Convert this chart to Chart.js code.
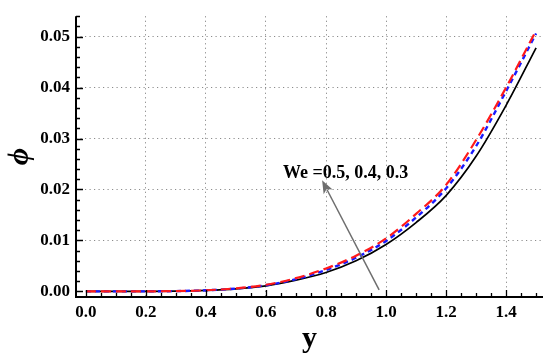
<!DOCTYPE html>
<html>
<head>
<meta charset="utf-8">
<script src="https://cdn.jsdelivr.net/npm/chart.js@4.4.0/dist/chart.umd.min.js"></script>
<style>
  html, body { margin: 0; padding: 0; background: #fff; }
  #wrap { width: 550px; height: 358px; }
</style>
</head>
<body>
<div id="wrap"><canvas id="phiChart"></canvas></div>
<script>
// values
const yValues = [0.0, 0.1, 0.2, 0.3, 0.4, 0.5, 0.6, 0.7, 0.8, 0.9, 1.0, 1.1, 1.2, 1.3, 1.4, 1.5]
const phiWe05 = [0, 0, 0.00001, 0.00006, 0.00022, 0.0006, 0.0013, 0.0026, 0.0045, 0.0070, 0.0104, 0.0152, 0.0209, 0.0297, 0.0400, 0.0512]
const phiWe04 = [0, 0, 0.00001, 0.00006, 0.00021, 0.00055, 0.0012, 0.0024, 0.0042, 0.0066, 0.0099, 0.0145, 0.0202, 0.0285, 0.0393, 0.0506]
const phiWe03 = [0, 0, 0.00001, 0.00005, 0.0002, 0.0005, 0.0011, 0.0022, 0.0037, 0.0060, 0.0092, 0.0135, 0.0188, 0.0265, 0.0365, 0.0478]
const xTicks = [0.0, 0.2, 0.4, 0.6, 0.8, 1.0, 1.2, 1.4]
const yTicks = [0.00, 0.01, 0.02, 0.03, 0.04, 0.05]

const noteText = 'We =0.5, 0.4, 0.3'
const notePos = { x: 0.657, y: 0.0223 }
const arrowFrom = { x: 0.977, y: 0.0003 }
const arrowTo = { x: 0.787, y: 0.0218 }

const serif = '"Liberation Serif", "Times New Roman", serif'

const toPts = (vals) => yValues.map((v, i) => ({ x: v, y: vals[i] }))

// axes lines, inward ticks and the arrow note
const decorations = {
  id: 'decorations',
  afterDatasetsDraw(chart) {
    const ctx = chart.ctx
    const xs = chart.scales.x, ys = chart.scales.y
    const a = chart.chartArea
    ctx.save()
    ctx.strokeStyle = '#000'
    ctx.lineWidth = 2
    ctx.beginPath()
    ctx.moveTo(a.left, a.top)
    ctx.lineTo(a.left, a.bottom)
    ctx.lineTo(a.right, a.bottom)
    ctx.stroke()

    ctx.lineWidth = 1.3
    ctx.beginPath()
    for (let i = 0; i <= 30; i++) {
      const px = Math.round(xs.getPixelForValue(i * 0.05)) + 0.5
      const len = i % 4 === 0 ? 7 : 4
      ctx.moveTo(px, a.bottom)
      ctx.lineTo(px, a.bottom - len)
    }
    for (let i = 0; i <= 27; i++) {
      const py = Math.round(ys.getPixelForValue(i * 0.002)) + 0.5
      const len = i % 5 === 0 ? 7 : 4
      ctx.moveTo(a.left, py)
      ctx.lineTo(a.left + len, py)
    }
    ctx.stroke()

    // arrow
    const x1 = xs.getPixelForValue(arrowFrom.x), y1 = ys.getPixelForValue(arrowFrom.y)
    const x2 = xs.getPixelForValue(arrowTo.x), y2 = ys.getPixelForValue(arrowTo.y)
    const ang = Math.atan2(y2 - y1, x2 - x1)
    const headLen = 13, headW = 5
    ctx.strokeStyle = '#6e6e6e'
    ctx.fillStyle = '#6e6e6e'
    ctx.lineWidth = 1.5
    ctx.beginPath()
    ctx.moveTo(x1, y1)
    ctx.lineTo(x2 - Math.cos(ang) * headLen * 0.8, y2 - Math.sin(ang) * headLen * 0.8)
    ctx.stroke()
    ctx.beginPath()
    ctx.moveTo(x2, y2)
    ctx.lineTo(x2 - Math.cos(ang) * headLen + Math.sin(ang) * headW, y2 - Math.sin(ang) * headLen - Math.cos(ang) * headW)
    ctx.lineTo(x2 - Math.cos(ang) * headLen * 0.75, y2 - Math.sin(ang) * headLen * 0.75)
    ctx.lineTo(x2 - Math.cos(ang) * headLen - Math.sin(ang) * headW, y2 - Math.sin(ang) * headLen + Math.cos(ang) * headW)
    ctx.closePath()
    ctx.fill()

    ctx.fillStyle = '#000'
    ctx.font = 'bold 18px ' + serif
    ctx.textBaseline = 'alphabetic'
    ctx.textAlign = 'left'
    ctx.fillText(noteText, xs.getPixelForValue(notePos.x), ys.getPixelForValue(notePos.y))
    ctx.restore()
  }
}

const tickFont = { family: serif, size: 17, weight: 'bold' }

new Chart(document.getElementById('phiChart'), {
  type: 'line',
  data: {
    datasets: [
      { label: 'We = 0.5', data: toPts(phiWe05), borderColor: '#ff1a1a', borderWidth: 2.2, borderDash: [10, 5] },
      { label: 'We = 0.4', data: toPts(phiWe04), borderColor: '#1a1aff', borderWidth: 2.4, borderDash: [5, 4] },
      { label: 'We = 0.3', data: toPts(phiWe03), borderColor: '#000', borderWidth: 1.7 }
    ]
  },
  options: {
    responsive: true,
    maintainAspectRatio: false,
    animation: false,
    events: [],
    elements: { point: { radius: 0 }, line: { cubicInterpolationMode: 'monotone', fill: false } },
    layout: { padding: { top: 8, right: 7, left: 0, bottom: 0 } },
    plugins: { legend: { display: false }, tooltip: { enabled: false } },
    scales: {
      x: {
        type: 'linear',
        min: -0.033,
        max: 1.523,
        afterBuildTicks: (s) => { s.ticks = xTicks.map(v => ({ value: v })) },
        afterFit: (s) => { s.height = 61 },
        ticks: { color: '#000', font: tickFont, padding: 5, maxRotation: 0, callback: (v) => v.toFixed(1) },
        grid: { drawTicks: false, color: (c) => c.tick && c.tick.value > 0 ? '#8c8c8c' : 'rgba(0,0,0,0)', lineWidth: 1 },
        border: { display: false, dash: [1.2, 3.3] },
        title: { display: true, text: 'y', color: '#000', font: { family: serif, size: 30, weight: 'bold' }, padding: { top: 0, bottom: 1 } }
      },
      y: {
        type: 'linear',
        min: -0.0011,
        max: 0.054,
        afterBuildTicks: (s) => { s.ticks = yTicks.map(v => ({ value: v })) },
        afterFit: (s) => { s.width = 76 },
        ticks: { color: '#000', font: tickFont, padding: 6, callback: (v) => v.toFixed(2) },
        grid: { drawTicks: false, color: (c) => c.tick && c.tick.value > 0 ? '#8c8c8c' : 'rgba(0,0,0,0)', lineWidth: 1 },
        border: { display: false, dash: [1.2, 3.3] },
        title: { display: true, text: 'ϕ', color: '#000', font: { family: serif, size: 30, weight: 'bold', style: 'italic' }, padding: { top: 2, bottom: 0 } }
      }
    }
  },
  plugins: [decorations]
})
</script>
</body>
</html>
